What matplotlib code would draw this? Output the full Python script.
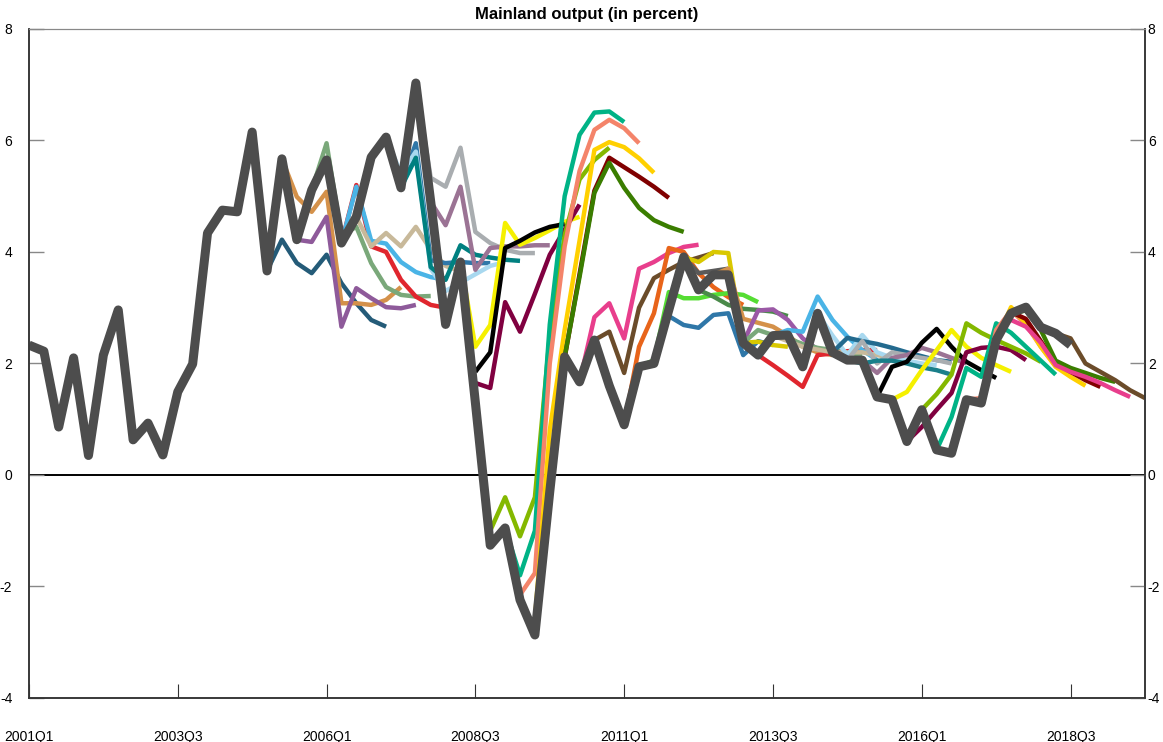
import numpy as np
import matplotlib
matplotlib.use('Agg')
import matplotlib.pyplot as plt
from matplotlib.ticker import FuncFormatter

plt.rcParams['font.family'] = ['Liberation Sans', 'DejaVu Sans']

# quarters from 2001Q1 to 2019Q4
quarters = [f'{2001 + k // 4}Q{k % 4 + 1}' for k in range(76)]
tick_labels = ['2001Q1', '2003Q3', '2006Q1', '2008Q3', '2011Q1', '2013Q3', '2016Q1', '2018Q3']

# outcome, 2001Q1 - 2018Q3
actual = [2.33, 2.22, 0.86, 2.10, 0.35, 2.15, 2.96, 0.63, 0.93, 0.36,
          1.49, 1.99, 4.34, 4.75, 4.72, 6.15, 3.66, 5.67, 4.22, 5.11,
          5.65, 4.16, 4.63, 5.70, 6.06, 5.15, 7.03, 4.90, 2.70, 3.82,
          1.30, -1.26, -0.95, -2.24, -2.87, -0.30, 2.12, 1.67, 2.42, 1.60,
          0.90, 1.94, 2.00, 2.96, 3.91, 3.32, 3.59, 3.59, 2.37, 2.15,
          2.50, 2.51, 1.94, 2.90, 2.20, 2.06, 2.06, 1.40, 1.35, 0.60,
          1.17, 0.45, 0.39, 1.35, 1.29, 2.42, 2.90, 3.01, 2.65, 2.54,
          2.33]

# forecast vintages: first quarter of each path
fc_start = ['2005Q1', '2005Q2', '2005Q3', '2005Q4', '2006Q2', '2006Q2',
            '2006Q3', '2006Q4', '2007Q1', '2007Q2', '2007Q3', '2007Q4',
            '2008Q2', '2008Q3', '2008Q3', '2008Q4', '2009Q1', '2009Q2',
            '2009Q3', '2009Q4', '2010Q1', '2010Q2', '2010Q3', '2011Q1',
            '2011Q2', '2011Q3', '2012Q1', '2012Q1', '2012Q2', '2012Q3',
            '2013Q1', '2013Q1', '2013Q2', '2013Q3', '2013Q3', '2014Q2',
            '2014Q3', '2014Q3', '2014Q4', '2014Q4', '2015Q2', '2015Q3',
            '2015Q4', '2016Q1', '2016Q2', '2016Q4', '2017Q1', '2017Q2',
            '2017Q3', '2017Q3', '2017Q4']

fc_values = [
    [3.66, 4.22, 3.80, 3.62, 3.95, 3.44, 3.08, 2.78, 2.66],
    [5.67, 4.99, 4.72, 5.08, 3.08, 3.08, 3.05, 3.14, 3.37],
    [4.22, 4.18, 4.63, 2.66, 3.35, 3.17, 3.01, 2.99, 3.05],
    [5.11, 5.95, 4.30, 4.45, 3.80, 3.37, 3.23, 3.20, 3.21],
    [4.16, 5.20, 4.10, 4.00, 3.50, 3.20, 3.05, 3.00],
    [4.16, 5.17, 4.20, 4.15, 3.82, 3.64, 3.55, 3.50],
    [4.63, 4.10, 4.34, 4.10, 4.45, 4.04, 3.75, 3.65],
    [5.70, 6.00, 5.20, 5.95, 3.85, 3.80, 3.82, 3.80, 3.80],
    [6.06, 5.40, 5.80, 3.70, 3.30, 3.45, 3.60, 3.75, 3.82],
    [5.15, 5.69, 3.73, 3.50, 4.12, 3.95, 3.90, 3.86, 3.84],
    [7.03, 5.33, 5.17, 5.87, 4.36, 4.16, 4.04, 3.98, 3.98],
    [4.90, 4.48, 5.17, 3.68, 4.07, 4.10, 4.10, 4.12, 4.12],
    [3.82, 2.30, 2.69, 4.52, 4.13, 4.25, 4.39, 4.54, 4.63],
    [1.85, 2.20, 4.07, 4.20, 4.35, 4.45, 4.50],
    [1.65, 1.56, 3.10, 2.57, 3.25, 3.95, 4.40, 4.85],
    [-1.00, -0.40, -1.10, -0.40, 2.50, 4.30, 5.30, 5.65, 5.87],
    [-0.95, -1.80, -1.00, 2.70, 5.00, 6.10, 6.50, 6.52, 6.33],
    [-2.15, -1.76, 2.00, 4.10, 5.45, 6.19, 6.37, 6.22, 5.95],
    [-2.60, 0.80, 2.60, 4.20, 5.83, 5.97, 5.88, 5.68, 5.42],
    [-0.30, 2.10, 3.60, 5.10, 5.69, 5.52, 5.35, 5.17, 4.97],
    [2.12, 3.55, 5.06, 5.60, 5.15, 4.79, 4.57, 4.45, 4.36],
    [1.67, 2.83, 3.08, 2.45, 3.70, 3.82, 3.98, 4.09, 4.13],
    [2.42, 2.57, 1.83, 3.00, 3.53, 3.68, 3.82, 3.90, 3.98],
    [0.90, 2.30, 2.90, 4.07, 4.00, 3.62, 3.37, 3.19, 3.05],
    [1.94, 2.06, 3.28, 3.17, 3.17, 3.23, 3.26, 3.23, 3.10],
    [2.00, 2.85, 2.69, 2.64, 2.87, 2.90, 2.15, 2.40, 2.33],
    [3.91, 3.82, 4.00, 3.98, 2.37, 2.39, 2.33, 2.30],
    [3.91, 3.62, 3.66, 3.70],
    [3.32, 3.20, 3.05, 2.98, 2.96, 2.93, 2.85],
    [3.59, 3.70, 2.80, 2.73, 2.66, 2.50, 2.30, 2.20, 2.15],
    [2.37, 2.95, 2.97, 2.78, 2.45, 2.25, 2.20, 2.10, 2.05],
    [2.37, 2.60, 2.51, 2.45, 2.35, 2.28, 2.24, 2.20, 2.15],
    [2.15, 1.97, 1.78, 1.58, 2.15, 2.18, 2.22, 2.24, 2.24],
    [2.50, 2.60, 2.57, 3.20, 2.78, 2.48, 2.24, 2.06],
    [2.50, 2.40, 2.30, 2.25, 2.20, 2.20, 2.20, 2.15, 2.10],
    [2.90, 2.50, 2.15, 2.51, 2.20, 2.10, 2.05, 2.00, 1.97],
    [2.20, 2.46, 2.40, 2.35, 2.28, 2.20, 2.13, 2.06, 2.03],
    [2.20, 2.06, 2.40, 2.00, 2.20, 2.15, 2.10, 2.06, 2.00],
    [2.06, 2.06, 1.83, 2.10, 2.15, 2.28, 2.20, 2.10, 2.00],
    [2.06, 2.00, 2.05, 2.05, 2.00, 1.93, 1.88, 1.80],
    [1.40, 1.94, 2.03, 2.37, 2.62, 2.30, 2.03, 1.88, 1.74],
    [1.35, 1.49, 1.88, 2.24, 2.60, 2.30, 2.10, 1.97, 1.85],
    [0.60, 0.86, 1.17, 1.47, 2.20, 2.28, 2.30, 2.24, 2.06],
    [1.17, 1.45, 1.80, 2.72, 2.55, 2.42, 2.30, 2.18, 2.03],
    [0.45, 1.04, 1.92, 1.76, 2.72, 2.55, 2.30, 2.05, 1.80],
    [1.35, 1.38, 2.60, 2.95, 2.70, 2.30, 1.95, 1.85, 1.75],
    [1.29, 2.42, 3.01, 2.72, 2.30, 1.94, 1.76, 1.60],
    [2.42, 2.92, 2.80, 2.40, 2.00, 1.85, 1.70, 1.58],
    [2.90, 2.95, 2.60, 2.05, 1.92, 1.83, 1.74, 1.67],
    [2.78, 2.66, 2.37, 1.97, 1.85, 1.76, 1.65, 1.52, 1.40],
    [3.01, 2.65, 2.54, 2.45, 2.00, 1.85, 1.70, 1.52, 1.38],
]

fc_colors = ['#245b78', '#d4914a', '#8e5a9a', '#7aa87a', '#e0262e', '#4ab4e6',
             '#c8b99a', '#2f77a8', '#a8d8ef', '#008080', '#a9adb0', '#9b7394',
             '#f5f000', '#000000', '#800040', '#84b800', '#00b386', '#f4846a',
             '#ffd000', '#800000', '#3a7d00', '#e83e8c', '#6b4c2a', '#e8641a',
             '#55dd33', '#2f77a8', '#d9c800', '#5a5a5a', '#4a8a4a', '#d4914a',
             '#9b59a6', '#7aa87a', '#e0262e', '#4ab4e6', '#c8b99a', '#a8d8ef',
             '#236a8e', '#a9adb0', '#9b7394', '#1a7f8a', '#000000', '#f5f000',
             '#800040', '#84b800', '#00b386', '#f4846a', '#ffd000', '#800000',
             '#3a7d00', '#e83e8c', '#6b4c2a']

fig = plt.figure(figsize=(11.63, 7.42), dpi=100)
ax = fig.add_axes([0.0249, 0.0593, 0.9596, 0.9017])

for start, vals, col in zip(fc_start, fc_values, fc_colors):
    i0 = quarters.index(start)
    ax.plot(np.arange(i0, i0 + len(vals)), vals, color=col, lw=3.2,
            solid_joinstyle='round', solid_capstyle='butt', zorder=2)

ax.plot(np.arange(len(actual)), actual, color='#4d4d4d', lw=6.5,
        solid_joinstyle='round', solid_capstyle='butt', zorder=3)
ax.axhline(0, color='black', lw=1.4, zorder=1)

ax.set_xlim(0, 75)
ax.set_ylim(-4, 8)
ax.set_xticks([quarters.index(q) for q in tick_labels])
ax.set_xticklabels(tick_labels)
ax.set_yticks(range(-4, 9, 2))
fmt = FuncFormatter(lambda v, p: str(int(v)))
ax.yaxis.set_major_formatter(fmt)

ax.tick_params(axis='x', direction='in', length=10, width=0.8, color='#333333',
               pad=23, labelsize=10)
ax.tick_params(axis='y', direction='in', length=11, width=1, color='#888888',
               labelsize=10, pad=12)

# right-hand labels with a smaller gap
ax2 = ax.twinx()
ax2.set_ylim(-4, 8)
ax2.set_yticks(range(-4, 9, 2))
ax2.yaxis.set_major_formatter(fmt)
ax2.tick_params(axis='y', direction='in', length=11, width=1, color='#888888',
                labelsize=10, pad=2)

for a in (ax, ax2):
    for s in ['left', 'right', 'bottom']:
        a.spines[s].set_color('#333333')
        a.spines[s].set_linewidth(1.1)
    a.spines['top'].set_color('#888888')

ax.set_title('Mainland output (in percent)', fontsize=12, fontweight='bold', pad=7)

fig.savefig('out.png', dpi=100)
